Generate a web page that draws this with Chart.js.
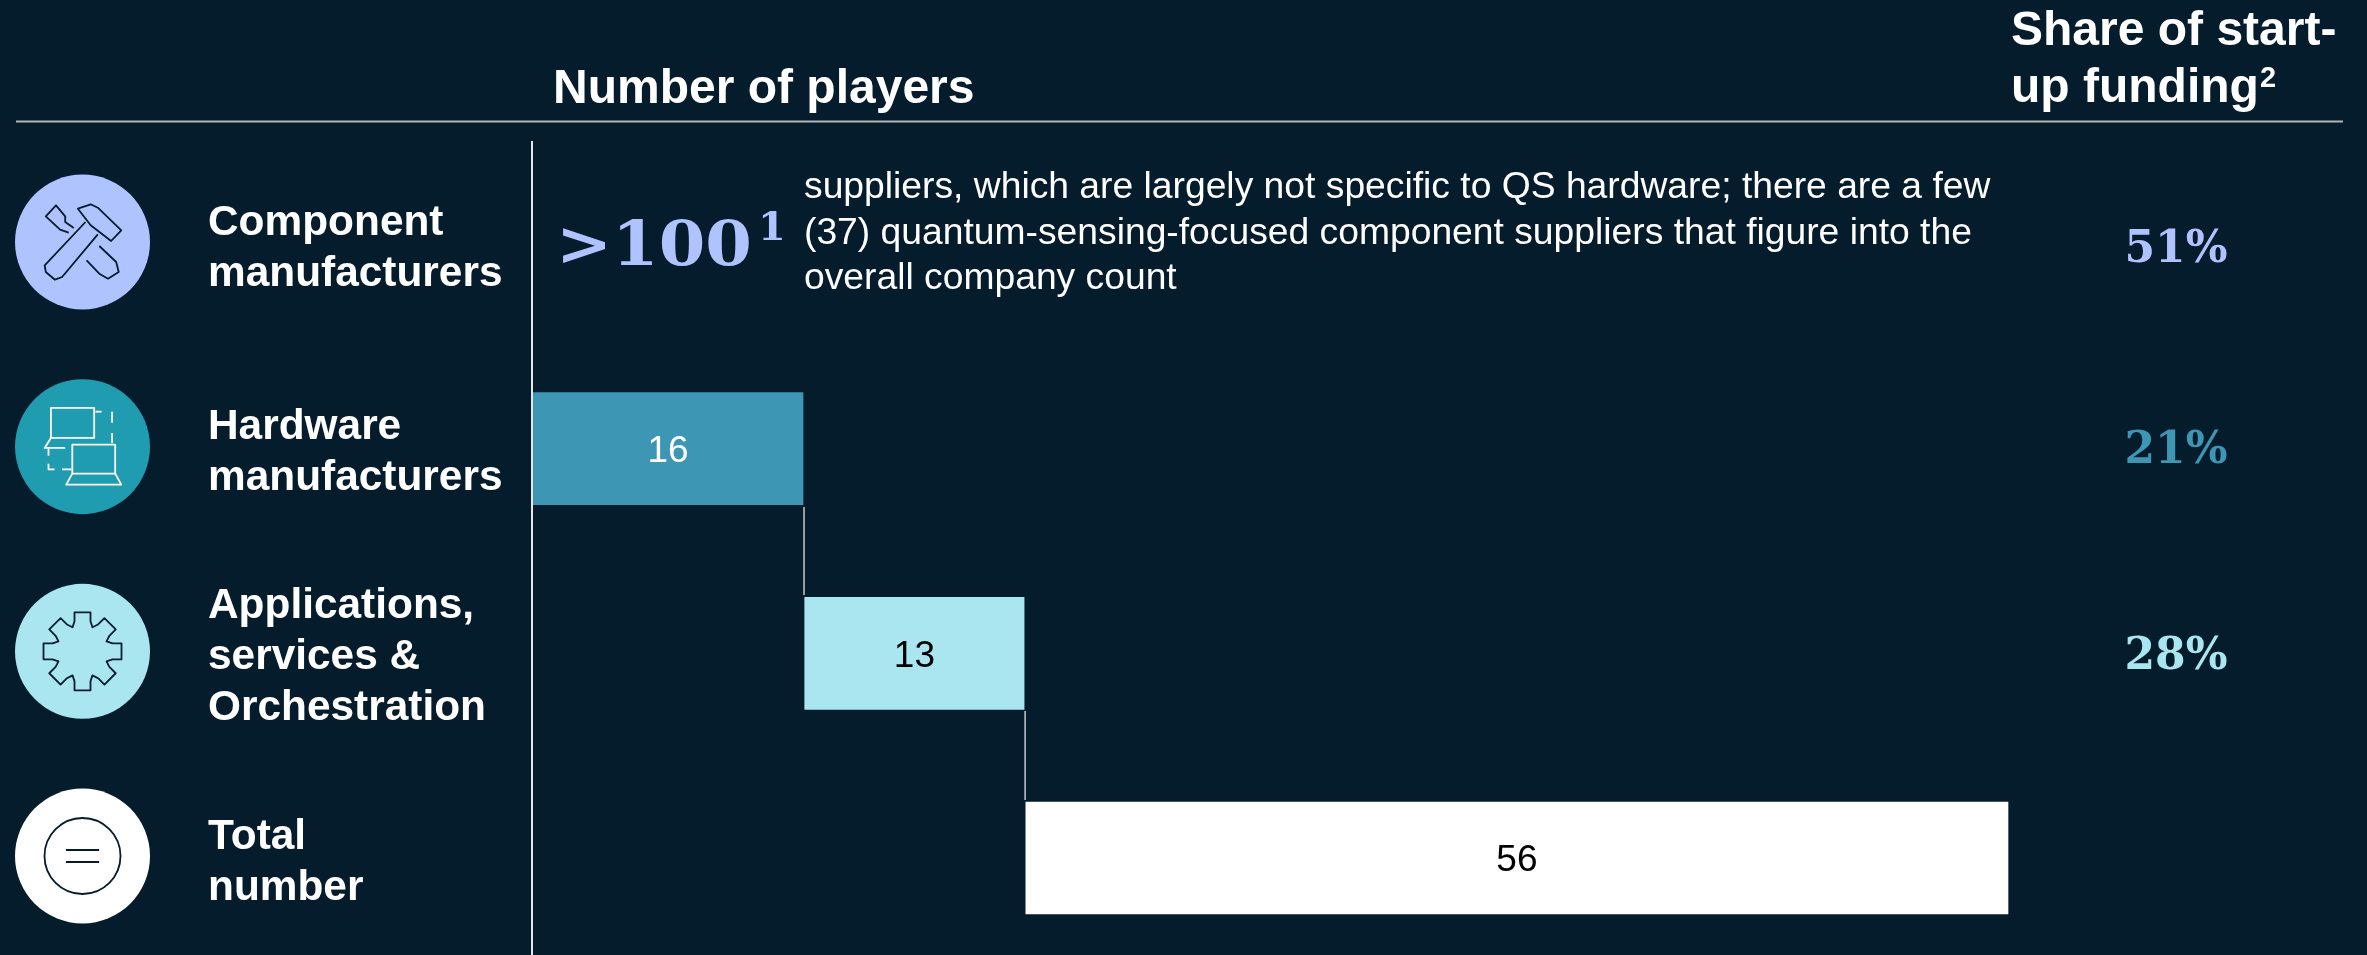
<!DOCTYPE html>
<html>
<head>
<meta charset="utf-8">
<title>Number of players</title>
<script src="https://cdn.jsdelivr.net/npm/chart.js@4"></script>
<style>
  html, body { margin: 0; padding: 0; background: #051c2c; overflow: hidden; }
  canvas { display: block; }
</style>
</head>
<body>
<canvas id="playersChart" width="2367" height="955"></canvas>
<script>
const categories = [
  ["Component", "manufacturers"],
  ["Hardware", "manufacturers"],
  ["Applications,", "services &", "Orchestration"],
  ["Total", "number"],
];
const barStarts = [null, 0, 16.1, null];
const barCounts = [null, 16, 13, null];
const totalCounts = [null, null, null, 56];
const fundingShares = [51, 21, 28];
const supplierNote = [
  "suppliers, which are largely not specific to QS hardware; there are a few",
  "(37) quantum-sensing-focused component suppliers that figure into the",
  "overall company count",
];

const NAVY = "#051c2c";
const SANS = '"Liberation Sans", Arial, sans-serif';
const SERIF = '"DejaVu Serif", serif';
const PERIWINKLE = "#afc3ff";
const TEAL = "#3c96b4";
const AQUA = "#aae6f0";

function strokePath(ctx, points, close) {
  ctx.beginPath();
  points.forEach((p, i) => (i ? ctx.lineTo(p[0], p[1]) : ctx.moveTo(p[0], p[1])));
  if (close) ctx.closePath();
  ctx.stroke();
}

// icons are drawn around (0,0), the centre of their circle
function drawTools(ctx) {
  ctx.strokeStyle = NAVY;
  strokePath(ctx, [[-4.6, -33.3], [8.2, -37.7], [15.3, -34.3], [38.8, -11.7], [28.6, -1], [8.2, -16.7]], true);
  strokePath(ctx, [[3, -20], [-37.8, 23.3], [-36.7, 30], [-27.6, 37.7], [-20.4, 35], [15.3, -7.7]]);
  strokePath(ctx, [[4.1, 18.3], [16.8, 31.7], [25.5, 36.7], [36.2, 30], [33.7, 20], [16.8, 4]]);
  strokePath(ctx, [[-8.7, -14], [-17.3, -20], [-17.3, -25.7], [-26.5, -36.7], [-36.7, -25.7], [-22.4, -12.3], [-13.8, -9.3]]);
}

function drawLaptops(ctx) {
  ctx.strokeStyle = "#ffffff";
  ctx.strokeRect(-31.6, -38.7, 43.3, 30);
  strokePath(ctx, [[-31.6, -8.7], [-37.8, 1.3], [-17.3, 1.3]]);
  ctx.strokeRect(-10.2, -2, 42.9, 29);
  strokePath(ctx, [[-10.2, 27], [-16.3, 38], [38.8, 38], [32.7, 27]]);
  strokePath(ctx, [[13, -35], [19, -35]]);
  strokePath(ctx, [[29.6, -35], [29.6, -24]]);
  strokePath(ctx, [[29.6, -13.7], [29.6, -3.7]]);
  strokePath(ctx, [[-34, 2], [-34, 9]]);
  strokePath(ctx, [[-34, 17], [-34, 22.7], [-28, 22.7]]);
  strokePath(ctx, [[-20.4, 22.7], [-11.2, 22.7]]);
}

function drawGear(ctx) {
  const points = [];
  for (let i = 0; i < 8; i++) {
    const a = (i * Math.PI) / 4 - Math.PI / 2;
    const c = Math.cos(a), s = Math.sin(a);
    [[30, -8], [39, -8], [39, 8], [30, 8]].forEach(([r, w]) => {
      points.push([r * c - w * s, r * s + w * c]);
    });
    const notch = a + Math.PI / 8;
    points.push([26 * Math.cos(notch), 26 * Math.sin(notch)]);
  }
  ctx.strokeStyle = NAVY;
  strokePath(ctx, points, true);
}

function drawEquals(ctx) {
  ctx.strokeStyle = NAVY;
  ctx.beginPath();
  ctx.arc(0, 0, 38, 0, Math.PI * 2);
  ctx.stroke();
  strokePath(ctx, [[-16.6, -6], [16.6, -6]]);
  strokePath(ctx, [[-16.6, 6], [16.6, 6]]);
}

const rowIcons = [
  { fill: PERIWINKLE, draw: drawTools },
  { fill: "#1f9cb0", draw: drawLaptops },
  { fill: AQUA, draw: drawGear },
  { fill: "#ffffff", draw: drawEquals },
];

function text(ctx, str, x, y, font, color, align) {
  ctx.font = font;
  ctx.fillStyle = color;
  ctx.textAlign = align || "left";
  ctx.textBaseline = "alphabetic";
  ctx.fillText(str, x, y);
}

// heading, row rule, divider, icons and the text columns beside the bars
const tableDecor = {
  id: "tableDecor",
  afterDraw(chart) {
    const ctx = chart.ctx;
    const y = chart.scales.y;
    ctx.save();

    const headFont = "bold 48px " + SANS;
    text(ctx, "Number of players", 553, 103, headFont, "#ffffff");
    text(ctx, "Share of start-", 2011, 45, headFont, "#ffffff");
    text(ctx, "up funding", 2011, 102, headFont, "#ffffff");
    const funding = ctx.measureText("up funding").width;
    text(ctx, "2", 2011 + funding + 1, 87, "bold 29px " + SANS, "#ffffff");

    ctx.strokeStyle = "#b3b3b3";
    ctx.lineWidth = 2;
    strokePath(ctx, [[16, 121.5], [2343, 121.5]]);
    ctx.strokeStyle = "#e6e6e6";
    strokePath(ctx, [[532, 141], [532, 955]]);

    rowIcons.forEach((icon, i) => {
      ctx.save();
      ctx.translate(82.5, y.getPixelForValue(i) - 2);
      ctx.fillStyle = icon.fill;
      ctx.beginPath();
      ctx.arc(0, 0, 67.5, 0, Math.PI * 2);
      ctx.fill();
      ctx.lineWidth = 1.8;
      ctx.lineJoin = "round";
      icon.draw(ctx);
      ctx.restore();
    });

    // row names, centred on their bar
    categories.forEach((lines, i) => {
      const top = y.getPixelForValue(i) - ((lines.length - 1) * 51) / 2 + 16;
      lines.forEach((line, n) => {
        text(ctx, line, 208, top + n * 51, "bold 42.4px " + SANS, "#ffffff");
      });
    });

    const first = y.getPixelForValue(0);
    ctx.save();
    ctx.translate(556, first + 21);
    ctx.scale(1.08, 1);
    text(ctx, ">100", 0, 0, "bold 62px " + SERIF, PERIWINKLE);
    ctx.restore();
    text(ctx, "1", 758, first - 4, "bold 40px " + SERIF, PERIWINKLE);

    supplierNote.forEach((line, i) => {
      text(ctx, line, 804, 198 + i * 45.5, "37.25px " + SANS, "#ffffff");
    });

    const shareColors = [PERIWINKLE, TEAL, AQUA];
    const shareDrop = [18, 14, 16];
    fundingShares.forEach((share, i) => {
      text(ctx, share + "%", 2176, y.getPixelForValue(i) + shareDrop[i], "bold 44px " + SERIF, shareColors[i], "center");
    });

    // stepped connectors between the bars
    const bars = chart.getDatasetMeta(0).data;
    ctx.strokeStyle = "#c8c8c8";
    ctx.lineWidth = 1.5;
    strokePath(ctx, [[bars[1].x + 1, 507], [bars[1].x + 1, 595]]);
    strokePath(ctx, [[bars[2].x + 1, 711], [bars[2].x + 1, 800]]);
    ctx.restore();
  },
};

// count printed in the middle of each bar
const barValues = {
  id: "barValues",
  afterDatasetsDraw(chart) {
    const ctx = chart.ctx;
    ctx.save();
    const colors = [null, "#ffffff", "#000000", "#000000"];
    [0, 1].forEach((d) => {
      chart.getDatasetMeta(d).data.forEach((bar, i) => {
        const value = d === 0 ? barCounts[i] : totalCounts[i];
        if (value === null) return;
        ctx.font = "37px " + SANS;
        ctx.fillStyle = colors[i];
        ctx.textAlign = "center";
        ctx.textBaseline = "middle";
        const c = bar.getCenterPoint();
        ctx.fillText(String(value), c.x, c.y + 3);
      });
    });
    ctx.restore();
  },
};

new Chart(document.getElementById("playersChart"), {
  type: "bar",
  data: {
    labels: categories.map((lines) => lines.join(" ")),
    datasets: [
      {
        label: "Players",
        data: barCounts.map((n, i) => (n === null ? null : [barStarts[i], barStarts[i] + n])),
        backgroundColor: [TEAL, TEAL, AQUA, AQUA],
        barThickness: 112,
        grouped: false,
        clip: false,
      },
      {
        label: "Total",
        xAxisID: "x2",
        data: totalCounts.map((n) => (n === null ? null : [0, n])),
        backgroundColor: "#ffffff",
        barThickness: 112,
        grouped: false,
        clip: false,
      },
    ],
  },
  options: {
    indexAxis: "y",
    responsive: false,
    animation: false,
    layout: { padding: { left: 533, right: 359, top: 244, bottom: 97 } },
    plugins: { legend: { display: false }, tooltip: { enabled: false } },
    scales: {
      x: { type: "linear", display: false, min: 0, max: 87.4 },
      // the total bar runs on its own scale
      x2: { type: "linear", axis: "x", display: false, min: -28.1, max: 56 },
      y: { type: "category", display: false, offset: false },
    },
  },
  plugins: [barValues, tableDecor],
});
</script>
</body>
</html>
